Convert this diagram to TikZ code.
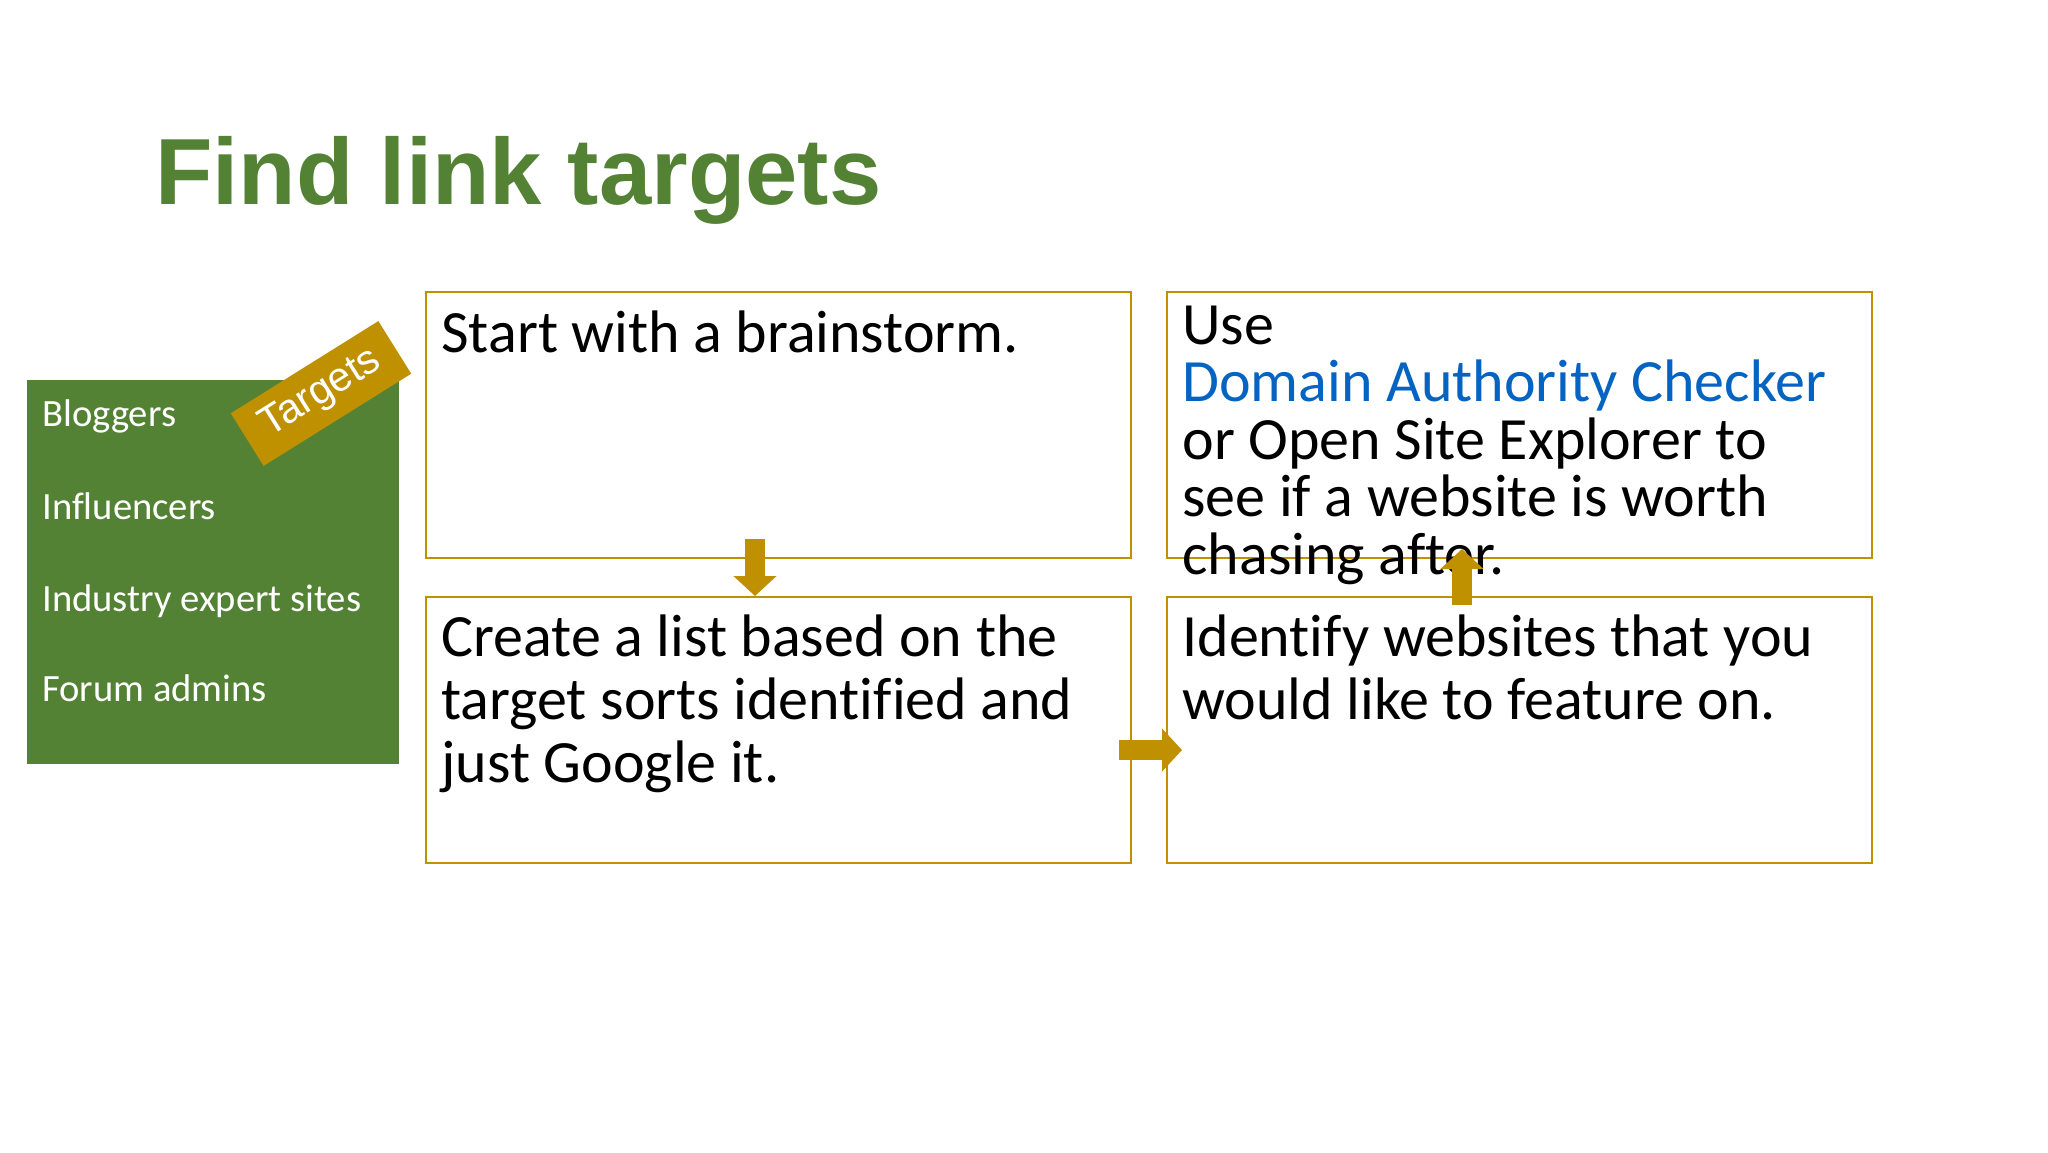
\documentclass[tikz,border=0pt]{standalone}
\usepackage{fontspec}
\setmainfont{Carlito}[Ligatures=CommonOff]
\newfontfamily\arialfont{Liberation Sans}
\usetikzlibrary{arrows.meta,calc}
\definecolor{titlegreen}{HTML}{548235}
\definecolor{gold}{HTML}{BF9000}
\definecolor{linkblue}{HTML}{0563C1}
\begin{document}
\begin{tikzpicture}[x=0.5pt,y=-0.5pt,
  stepbox/.style={draw=gold, line width=1pt, minimum width=352.5pt, minimum height=133pt, anchor=north west, inner sep=0pt},
  boxtext/.style={inner sep=0pt, align=left, anchor=base west, font=\fontsize{30pt}{31.5pt}\selectfont},
  smalltext/.style={inner sep=0pt, align=left, anchor=base west, font=\fontsize{30pt}{28.75pt}\selectfont},
  itemtext/.style={inner sep=0pt, anchor=base west, text=white, font=\fontsize{19.3pt}{21pt}\selectfont},
  blockarrow/.style={draw=gold, line width=10pt, -{Triangle[width=21pt,length=10pt]}}]
\useasboundingbox (0,0) rectangle (2048,1152);
\fill[white] (0,0) rectangle (2048,1152);
% title
\node[inner sep=0pt, anchor=base west, text=titlegreen, font=\arialfont\bfseries\fontsize{47pt}{52pt}\selectfont] (title) at (155,204) {Find link targets};
% green panel
\node[fill=titlegreen, minimum width=186pt, minimum height=192pt, anchor=north west, inner sep=0pt] (panel) at (27,380) {};
\node[itemtext] (i1) at (42,426) {Bloggers};
\node[itemtext] (i2) at (42,519) {Influencers};
\node[itemtext] (i3) at (42,611) {Industry expert sites};
\node[itemtext] (i4) at (42,701) {Forum admins};
\node[fill=gold, rotate=32, minimum width=87pt, minimum height=31pt, inner sep=0pt, text=white, font=\arialfont\fontsize{20.5pt}{21pt}\selectfont] (tag) at (321,393.5) {Targets};
% boxes
\node[stepbox] (b1) at (425,291) {};
\node[stepbox] (b2) at (1166,291) {};
\node[stepbox] (b3) at (425,596) {};
\node[stepbox] (b4) at (1166,596) {};
% text nodes: anchor is the baseline of the last line
\node[boxtext] (t1) at (441,352) {Start with a brainstorm.};
\node[smalltext] (t2) at (1182,574) {Use\\\textcolor{linkblue}{Domain Authority Checker}\\or Open Site Explorer to\\see if a website is worth\\chasing after.};
\node[boxtext] (t3) at (441,782) {Create a list based on the\\target sorts identified and\\just Google it.};
\node[boxtext] (t4) at (1182,719) {Identify websites that you\\would like to feature on.};
% arrows
\draw[blockarrow] ($(b1.south)+(-23.5,-20)$) -- ($(b3.north)+(-23.5,0)$);
\draw[blockarrow] ($(b3.east)+(-13,20)$) -- ($(b4.west)+(16,20)$);
\draw[blockarrow] ($(b4.north)+(-57.5,9)$) -- ($(b2.south)+(-57.5,-10)$);
\end{tikzpicture}
\end{document}
